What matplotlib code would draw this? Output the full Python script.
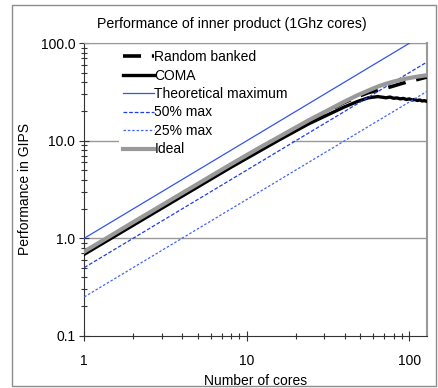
import matplotlib
matplotlib.use("Agg")
import matplotlib.pyplot as plt
from matplotlib.patches import Rectangle
from matplotlib.ticker import LogLocator, NullFormatter, FixedLocator, FixedFormatter

plt.rcParams['font.family'] = ['Liberation Sans', 'DejaVu Sans']

# ===============================
# data
# ===============================

cores = [1, 2, 4, 8, 12, 16, 24, 32, 40, 48, 56, 64, 72, 80, 96, 112, 128]
ideal = [0.73, 1.46, 2.9, 5.75, 8.5, 11.1, 16.2, 20.8, 25.3, 29.3, 32.8, 36.0,
         38.5, 40.5, 43.5, 45.5, 47.0]
random_banked = [0.72, 1.44, 2.86, 5.7, 8.4, 11.0, 16.0, 20.5, 24.8, 28.3, 31.2, 33.0,
                 34.7, 36.5, 40.0, 42.5, 45.0]

coma_cores = [1, 2, 4, 8, 16, 24, 32, 40, 48, 56, 64, 68, 72, 76, 80, 84, 88, 92,
              96, 100, 104, 108, 112, 116, 120, 124, 128]
coma = [0.685, 1.36, 2.7, 5.35, 10.3, 14.9, 18.7, 22.3, 25.3, 27.6, 28.4, 28.0,
        27.6, 28.1, 27.3, 27.5, 26.9, 27.2, 26.5, 26.9, 26.2, 26.5, 25.9, 26.2,
        25.6, 25.8, 25.4]

ref_cores = [1, 128]
theoretical = [1, 128]
half_max = [0.5, 64]
quarter_max = [0.25, 32]

ytick_vals = [0.1, 1, 10, 100]
ytick_labels = ["0.1", "1.0", "10.0", "100.0"]
xtick_vals = [1, 10, 100]
xtick_labels = ["1", "10", "100"]

# ===============================
# figure
# ===============================

W, H = 439, 388
fig = plt.figure(figsize=(W / 100, H / 100), dpi=100)
ax = fig.add_axes([84.3 / W, 1 - 335.7 / H, (426.7 - 84.3) / W, (335.7 - 43.3) / H])

# outer chart border
fig.patches.append(Rectangle((11.5 / W, 1 - 385.7 / H), (436.5 - 11.5) / W, (385.7 - 5) / H,
                             transform=fig.transFigure, fill=False,
                             edgecolor="#8c8c8c", linewidth=1.0))

blue = "#3355ee"

# series in drawing order (later ones on top, like the original)
ax.plot(cores, random_banked, color="black", lw=2.6, dashes=(5, 3), label="Random banked", zorder=3)
ax.plot(coma_cores, coma, color="black", lw=2.4, label="COMA", zorder=3.1)
ax.plot(ref_cores, theoretical, color=blue, lw=0.9, label="Theoretical maximum", zorder=3.2)
ax.plot(ref_cores, half_max, color="#1f3ee8", lw=0.9, dashes=(3, 1.5), label="50% max", zorder=3.3)
ax.plot(ref_cores, quarter_max, color="#4466f5", lw=0.9, dashes=(2, 1.5), label="25% max", zorder=3.4)
ax.plot(cores, ideal, color="#999999", lw=3.0, label="Ideal", zorder=3.5)

ax.set_xscale("log")
ax.set_yscale("log")
ax.set_xlim(1, 128)
ax.set_ylim(0.1, 100)

ax.yaxis.set_major_locator(FixedLocator(ytick_vals))
ax.yaxis.set_major_formatter(FixedFormatter(ytick_labels))
ax.yaxis.set_minor_locator(LogLocator(base=10, subs=range(2, 10)))
ax.yaxis.set_minor_formatter(NullFormatter())
ax.xaxis.set_major_locator(FixedLocator(xtick_vals))
ax.xaxis.set_major_formatter(FixedFormatter(xtick_labels))
ax.xaxis.set_minor_locator(LogLocator(base=10, subs=range(2, 10)))
ax.xaxis.set_minor_formatter(NullFormatter())

for yv in ytick_vals[1:]:
    ax.axhline(yv, color="#999999", lw=1.0, zorder=1)

ax.spines["top"].set_color("#999999")
ax.spines["right"].set_color("#999999")
ax.spines["right"].set_linewidth(1.5)
ax.spines["left"].set_color("#333333")
ax.spines["bottom"].set_color("#333333")

ax.tick_params(which="major", direction="inout", length=7, width=0.8, color="#333333",
               labelsize=10, pad=4)
ax.tick_params(which="minor", direction="inout", length=4.5, width=0.8, color="#333333")
ax.tick_params(axis="x", which="major", pad=10)
ax.tick_params(axis="y", which="major", pad=3)

ax.set_xlabel("Number of cores", fontsize=10, labelpad=4)
ax.set_ylabel("Performance in GIPS", fontsize=10, labelpad=6)
fig.text(232 / W, 1 - 24 / H, "Performance of inner product (1Ghz cores)",
         ha="center", va="center", fontsize=10.2)

# legend sits above the gridlines but below the data lines
leg = ax.legend(loc="upper left", bbox_to_anchor=(119 / W, 1 - 46 / H),
                bbox_transform=fig.transFigure, fontsize=10, frameon=True,
                fancybox=False, edgecolor="none", facecolor="white", framealpha=1,
                handlelength=2.2, handletextpad=0.05, labelspacing=0.32,
                borderpad=0.3, borderaxespad=0)
leg.set_zorder(2)

fig.savefig("out.png", dpi=100)
